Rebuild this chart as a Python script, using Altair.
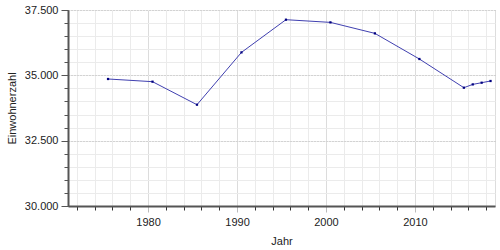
import altair as alt
import pandas as pd

years = [1975, 1980, 1985, 1990, 1995, 2000, 2005, 2010, 2015, 2016, 2017, 2018]
population = [34860, 34757, 33876, 35878, 37129, 37026, 36605, 35625, 34527, 34653, 34718, 34783]

x_major = [1980, 1990, 2000, 2010]
x_minor = list(range(1972, 2019, 2))
y_major = [30000, 32500, 35000, 37500]
y_minor = list(range(30000, 37501, 500))

df = pd.DataFrame({"Jahr": years, "Einwohnerzahl": population})

FONT = "Liberation Sans"
xscale = alt.Scale(domain=[1971, 2019], nice=False, zero=False)
yscale = alt.Scale(domain=[30000, 37500], nice=False, zero=False)

base = alt.Chart(df).transform_calculate(xpos="datum.Jahr + 0.5")

minor = base.mark_point(opacity=0).encode(
    x=alt.X("xpos:Q", scale=xscale, axis=alt.Axis(
        values=x_minor, labels=False, title=None, grid=True, gridColor="#ebebeb",
        gridWidth=1, tickSize=4, tickColor="#333", domain=False, orient="bottom")),
    y=alt.Y("Einwohnerzahl:Q", scale=yscale, axis=alt.Axis(
        values=y_minor, labels=False, title=None, grid=True, gridColor="#ebebeb",
        gridWidth=1, tickSize=4, tickColor="#555", domain=False, orient="left")),
)

line = base.mark_line(color="#4040b0", strokeWidth=1).encode(
    x=alt.X("xpos:Q", scale=xscale, axis=alt.Axis(
        values=x_major, format="d", title="Jahr", grid=True, gridColor="#dcdcdc",
        gridWidth=1, tickSize=6, tickColor="#bbb", domainColor="#555", domainWidth=2,
        labelFont=FONT, labelFontSize=11, labelColor="#222", labelPadding=4,
        titleFont=FONT, titleFontSize=11, titleFontWeight="normal", titleColor="#222",
        titlePadding=8, orient="bottom")),
    y=alt.Y("Einwohnerzahl:Q", scale=yscale, axis=alt.Axis(
        values=y_major, labelExpr="replace(format(datum.value, ','), ',', '.')",
        title="Einwohnerzahl", grid=True, gridColor="#bbbbbb", gridDash=[1, 2],
        gridWidth=1, tickSize=7, tickColor="#555", domainColor="#555", domainWidth=2,
        labelFont=FONT, labelFontSize=11, labelColor="#222", labelPadding=3,
        titleFont=FONT, titleFontSize=11, titleFontWeight="normal", titleColor="#222",
        titlePadding=7, orient="left")),
)

points = base.mark_square(color="#00007f", size=5, opacity=1).encode(
    x=alt.X("xpos:Q", scale=xscale, axis=None),
    y=alt.Y("Einwohnerzahl:Q", scale=yscale, axis=None),
)

chart = alt.layer(minor, line, points).resolve_axis(
    x="independent", y="independent"
).properties(
    width=427, height=196,
    autosize=alt.AutoSizeParams(type="none"),
    padding={"left": 68, "top": 10, "right": 5, "bottom": 44},
).configure_view(stroke=None).configure(background="white")

chart.save("out.html", embed_options={"renderer": "svg", "actions": False})
